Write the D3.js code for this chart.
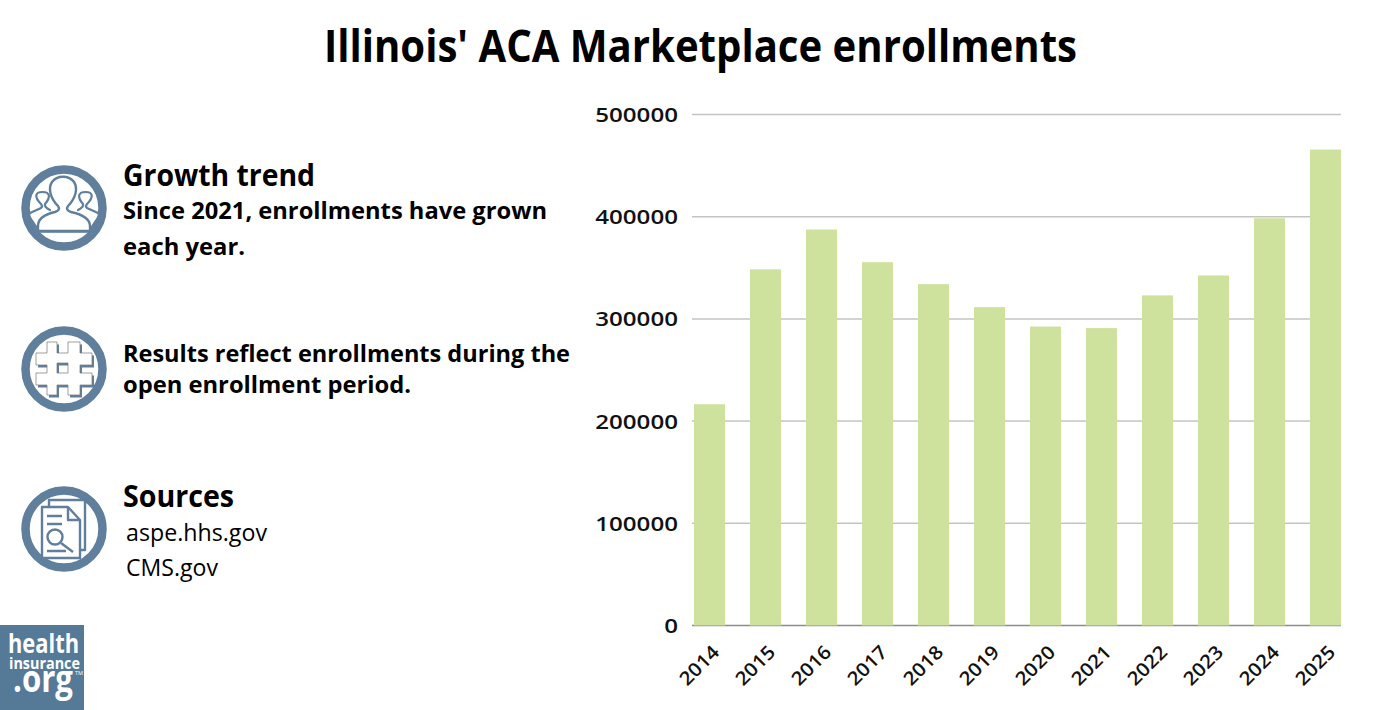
<!DOCTYPE html>
<html><head><meta charset="utf-8">
<script src="https://cdnjs.cloudflare.com/ajax/libs/d3/7.8.5/d3.min.js"></script>
<style>html,body{margin:0;background:#fff}svg{display:block}
text{font-family:"Open Sans",sans-serif}</style></head><body>
<svg id="c" width="1400" height="710"></svg>
<script>
const years=["2014","2015","2016","2017","2018","2019","2020","2021","2022","2023","2024","2025"];
const enrollments=[216500,348500,387500,355500,334000,311500,292500,291000,323000,342500,398500,465700];
const yTicks=[0,100000,200000,300000,400000,500000];
const svg=d3.select("#c");
const blue="#5f7f9c";
const x=d3.scaleBand().domain(years).range([694,1341]).paddingInner(0.446).paddingOuter(0);
const y=d3.scaleLinear().domain([0,500000]).range([625.5,114.5]);
const tickFont='"Inter",sans-serif';

svg.append("g").selectAll("line").data(yTicks).join("line")
 .attr("x1",692).attr("x2",1341).attr("y1",d=>y(d)).attr("y2",d=>y(d))
 .attr("stroke",d=>d===0?"#8d8d8d":"#c4c4c4").attr("stroke-width",1.5);
svg.append("g").selectAll("rect").data(years).join("rect")
 .attr("x",d=>x(d)).attr("width",x.bandwidth())
 .attr("y",(d,i)=>y(enrollments[i])).attr("height",(d,i)=>y(0)-y(enrollments[i]))
 .attr("fill","#cfe29d");
const ya=svg.append("g").attr("transform","translate(678,1)").call(d3.axisLeft(y).tickValues(yTicks).tickFormat(d3.format("d")).tickSize(0).tickPadding(0));
ya.select(".domain").remove();
ya.selectAll("text").attr("font-family",tickFont).attr("font-size",19).attr("font-weight",600).attr("fill","#111")
 .attr("textLength",d=>String(d).length*13.8).attr("lengthAdjust","spacingAndGlyphs");
const xa=svg.append("g").attr("transform","translate(0,625.5)").call(d3.axisBottom(x).tickSize(0).tickFormat(d=>d));
xa.select(".domain").remove();
xa.selectAll("text").attr("font-family",tickFont).attr("font-size",19).attr("font-weight",600).attr("fill","#111")
 .attr("text-anchor","end").attr("y",0).attr("dy",0)
 .attr("textLength",47).attr("lengthAdjust","spacingAndGlyphs")
 .attr("transform","translate(11,28) rotate(-45)");

function t(s,xp,yp,size,weight,len,anchor){const e=svg.append("text").text(s).attr("x",xp).attr("y",yp).attr("font-size",size).attr("font-weight",weight).attr("fill","#000").attr("text-anchor",anchor||"start");
 if(len)e.attr("textLength",len).attr("lengthAdjust","spacingAndGlyphs");return e;}
t("Illinois' ACA Marketplace enrollments",700.5,62,45.5,700,753,"middle");
t("Growth trend",123,186,30,700,192);
t("Since 2021, enrollments have grown",123,219,24,700,424);
t("each year.",123,255,24,700,122);
t("Results reflect enrollments during the",123,362,24,700,447);
t("open enrollment period.",123,393,24,700,288);
t("Sources",123,507,30,700,111);
t("aspe.hhs.gov",126,541,24,400,141);
t("CMS.gov",126,576,24,400,92);

function ring(cy){svg.append("circle").attr("cx",64).attr("cy",cy).attr("r",38.5).attr("fill","none").attr("stroke",blue).attr("stroke-width",8.5);}
ring(208);ring(369);ring(529);

// people icon
const g1=svg.append("g").attr("fill","#fff").attr("stroke",blue).attr("stroke-width",2.2).attr("stroke-linejoin","round").attr("stroke-linecap","round");
g1.append("path").attr("d","M30 213 L41 208 Q43 206 41 204 C34 197 35 192 42.5 192 C50 192 51 197 45 204 Q44 207 50 210");
g1.append("path").attr("d","M98 213 L87 208 Q85 206 87 204 C94 197 93 192 85.5 192 C78 192 77 197 83 204 Q84 207 78 210");
g1.append("path").attr("fill","none").attr("d","M31 219 L37 228 M97 219 L91 228");
g1.append("path").attr("stroke-width",2.4).attr("d","M38 231 L38 226 C38 218 46 214 55 212 Q61 210 58 206 C50 198 48 188 52 182 C57 175 69 175 74 182 C78 188 76 198 68 206 Q65 210 71 212 C80 214 90 218 90 226 L90 231 Z");
svg.append("line").attr("x1",36).attr("x2",90).attr("y1",231.5).attr("y2",231.5).attr("stroke",blue).attr("stroke-width",2.6);

// hash icon
const hash="M47 342 H57 V353 H68 V342 H80 V353 H92 V365 H80 V373 H92 V385 H80 V395 H68 V385 H57 V395 H47 V385 H36 V373 H47 V365 H36 V353 H47 Z M57 363 V373 H68 V363 Z";
svg.append("path").attr("d",hash).attr("transform","translate(2,2.5)").attr("fill",blue).attr("fill-rule","evenodd");
svg.append("path").attr("d",hash).attr("fill","#fff").attr("stroke","#777").attr("stroke-width",0.7).attr("fill-rule","evenodd");

// document icon
const g3=svg.append("g").attr("fill","#fff").attr("stroke",blue).attr("stroke-width",2.4).attr("stroke-linejoin","round");
g3.append("path").attr("d","M49 507 V500 H85 V550 H80");
g3.append("path").attr("d","M42 507 H68 L80 520 V558 H42 Z");
g3.append("path").attr("fill","none").attr("d","M68 507 V520 H80");
g3.append("path").attr("fill","none").attr("d","M47 516 H62 M47 524 H62 M47 551 H66");
g3.append("circle").attr("cx",55).attr("cy",537).attr("r",7.5).attr("fill","none");
g3.append("line").attr("x1",61).attr("y1",543).attr("x2",73).attr("y2",552);

// logo
svg.append("rect").attr("x",0).attr("y",625).attr("width",84).attr("height",85).attr("fill","#557a98");
const logo=(s,xp,yp,size,w,ls)=>svg.append("text").text(s).attr("x",xp).attr("y",yp).attr("font-size",size).attr("font-weight",w).attr("fill","#fff").attr("text-anchor","end").attr("font-family",'"Liberation Sans",sans-serif').attr("textLength",ls).attr("lengthAdjust","spacingAndGlyphs");
logo("health",79,653,27,700,71);
logo("insurance",80,669,16,700,71);
logo(".org",73,692,38,700,60);
logo("TM",83,675,5,400,8);
</script></body></html>
